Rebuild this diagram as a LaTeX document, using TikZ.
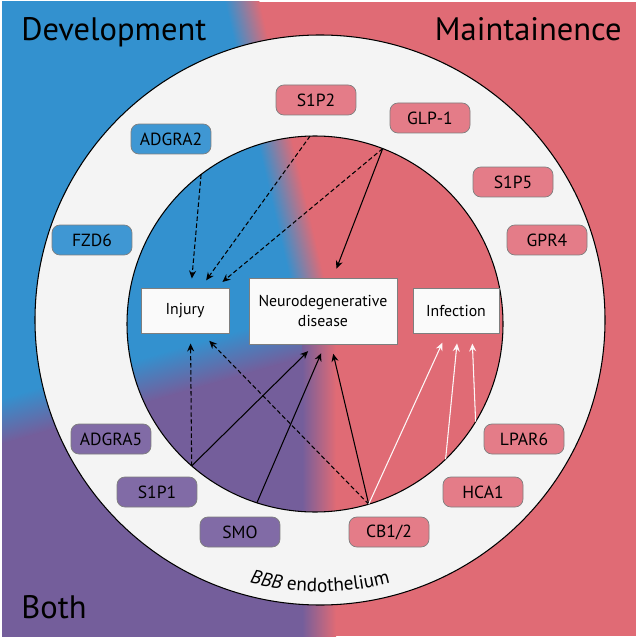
\documentclass[tikz,border=0pt]{standalone}
\usepackage{fontspec}
\setmainfont{PT Sans}
\usetikzlibrary{arrows.meta,calc,decorations.text,positioning}

\definecolor{devblue}{HTML}{3391CF}
\definecolor{mainred}{HTML}{E06B75}
\definecolor{bothpurple}{HTML}{745E9B}
\definecolor{ringgray}{HTML}{F4F4F4}
\definecolor{boxblue}{HTML}{3F97D3}
\definecolor{boxred}{HTML}{E47C88}
\definecolor{boxpurple}{HTML}{816BA6}
\definecolor{boxline}{HTML}{7E7E7E}

\newcommand{\bbbfont}{\fontsize{11}{13}\selectfont}

\tikzstyle{receptor}=[rectangle,
                      rounded corners=4.5pt,
                      thin,
                      draw=boxline,
                      minimum width=1.6cm,
                      minimum height=0.6cm,
                      font=\fontsize{10}{12}\selectfont]
\tikzstyle{dev}=[receptor, fill=boxblue]
\tikzstyle{maint}=[receptor, fill=boxred]
\tikzstyle{both}=[receptor, fill=boxpurple]
\tikzstyle{outcome}=[rectangle,
                     thin,
                     draw=boxline,
                     fill=white!98!black,
                     minimum height=0.9cm,
                     text centered,
                     font=\fontsize{9}{11}\selectfont]
\tikzstyle{link}=[line width=0.6pt,
                  -{Stealth[length=4.5pt,width=4pt]},
                  shorten >=5.5pt]
\tikzstyle{maybe}=[link, dash pattern=on 2.5pt off 1.5pt]
\tikzstyle{rescue}=[link, draw=white!94!mainred, fill=white!94!mainred]
\tikzstyle{title}=[font=\fontsize{18.5}{20}\selectfont, inner sep=0pt]

\begin{document}
\begin{tikzpicture}[x=0.02cm, y=-0.02cm]
    \useasboundingbox (0,0) rectangle (638,638);
    \coordinate (C) at (319,330);
    \coordinate (O) at (320,320);
    \coordinate (I) at (315,324);

    % background regions
    \begin{scope}
        \clip (2,2) rectangle (636,636);
        \fill[mainred] (2,2) rectangle (636,636);
        \fill[devblue] (C) -- +(164:900) -- +(210:900) -- +(256.8:900) -- cycle;
        \fill[bothpurple] (C) -- +(90:900) -- +(127:900) -- +(164:900) -- cycle;
        \begin{scope}[transform canvas={shift={(C)},rotate=103.2}]
            \shade[top color=devblue, bottom color=mainred] (0,-17) rectangle (500,17);
        \end{scope}
        \begin{scope}[transform canvas={shift={(C)},rotate=196}]
            \shade[top color=bothpurple, bottom color=devblue] (0,-22) rectangle (500,22);
        \end{scope}
        \begin{scope}[transform canvas={shift={(C)},rotate=270}]
            \shade[top color=mainred, bottom color=bothpurple] (0,-17) rectangle (500,17);
        \end{scope}
    \end{scope}

    % endothelium ring
    \fill[ringgray, even odd rule] (O) circle[radius=285] (I) circle[radius=188];
    \draw[line width=0.6pt] (O) circle[radius=285];
    \draw[line width=0.6pt] (I) circle[radius=188];
    \path[decorate, decoration={text along path, text align=center,
        text={|\bbbfont\itshape|BBB|\bbbfont\upshape| endothelium}}]
        ($(O)+(118:272)$) arc[start angle=118, end angle=62, radius=272];

    \node[title, anchor=base west] (devt) at (21,41) {Development};
    \node[title, anchor=base east] (maintt) at (622,41) {Maintainence};
    \node[title, anchor=base west] (botht) at (21,618) {Both};

    % receptors
    \node[dev] (adgra2) at (171,139) {ADGRA2};
    \node[dev] (fzd6) at (92,240) {FZD6};
    \node[maint] (s1p2) at (316,100) {S1P2};
    \node[maint] (glp1) at (430,118) {GLP-1};
    \node[maint] (s1p5) at (513,182) {S1P5};
    \node[maint] (gpr4) at (547,240) {GPR4};
    \node[maint] (lpar6) at (524,439) {LPAR6};
    \node[maint] (hca1) at (483,492) {HCA1};
    \node[maint] (cb12) at (389,532) {CB1/2};
    \node[both] (adgra5) at (111,439) {ADGRA5};
    \node[both] (s1p1) at (157,492) {S1P1};
    \node[both] (smo) at (240,532) {SMO};

    % outcomes
    \node[outcome, minimum width=1.76cm] (inj) at (185,311) {Injury};
    \node[outcome, minimum width=2.96cm, minimum height=1.32cm, align=center,
          node distance=2.76cm, right of=inj] (neuro) {Neurodegenerative\\disease};
    \node[outcome, minimum width=1.72cm, node distance=2.66cm, right of=neuro] (inf) {Infection};

    % where the links leave the endothelium
    \coordinate (adgra2in) at ($(I)+(232.7:188)$);
    \coordinate (s1p2in) at ($(I)+(268.5:188)$);
    \coordinate (glp1in) at ($(I)+(291.1:188)$);
    \coordinate (s1p1in) at ($(I)+(131:188)$);
    \coordinate (smoin) at ($(I)+(108:188)$);
    \coordinate (cbin) at ($(I)+(73.4:188)$);
    \coordinate (hcain) at ($(I)+(46:188)$);
    \coordinate (lparin) at ($(I)+(31.3:188)$);

    \draw[maybe] (adgra2in) -- ([xshift=0.12cm]inj.north);
    \draw[maybe] (s1p2in) -- ([xshift=0.31cm]inj.north);
    \draw[maybe] (glp1in) -- ([xshift=0.6cm]inj.north);
    \draw[link] (glp1in) -- ([xshift=0.2cm]neuro.north);
    \draw[maybe] (s1p1in) -- ([xshift=0.11cm]inj.south);
    \draw[link] (s1p1in) -- ([xshift=-0.16cm]neuro.south);
    \draw[link] (smoin) -- ([xshift=0.04cm]neuro.south);
    \draw[maybe] (cbin) -- ([xshift=0.35cm]inj.south);
    \draw[link] (cbin) -- ([xshift=0.16cm]neuro.south);
    \draw[rescue] (cbin) -- ([xshift=-0.19cm]inf.south);
    \draw[rescue] (hcain) -- ([xshift=0.04cm]inf.south);
    \draw[rescue] (lparin) -- ([xshift=0.32cm]inf.south);
\end{tikzpicture}
\end{document}
